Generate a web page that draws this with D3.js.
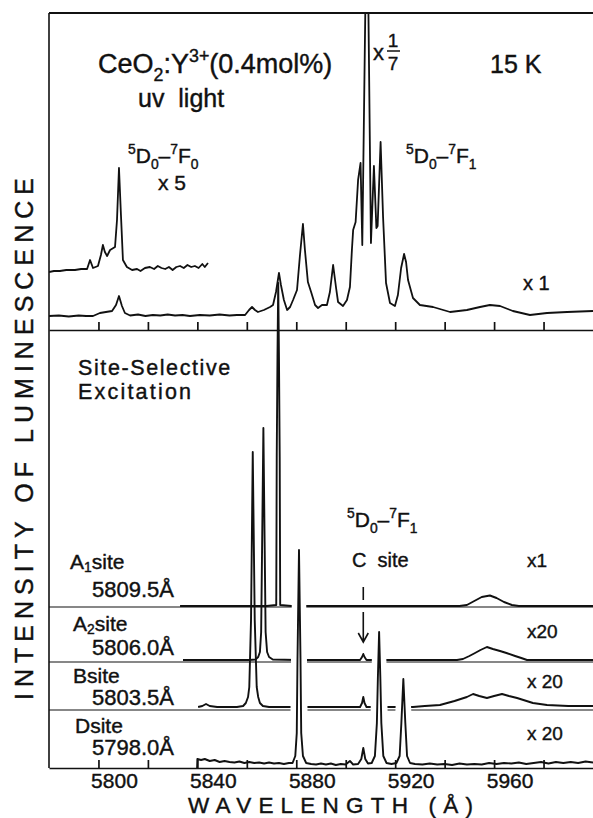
<!DOCTYPE html>
<html>
<head>
<meta charset="utf-8">
<script src="https://cdn.jsdelivr.net/npm/d3@7/dist/d3.min.js"></script>
<style>
  html, body { margin: 0; padding: 0; background: #fff; }
  svg { display: block; }
  text { font-family: "Liberation Sans", Arial, Helvetica, sans-serif; fill: #111; stroke: #111; stroke-width: 0.4px; }
</style>
</head>
<body>
<svg id="chart" width="593" height="818"></svg>
<script>
// ---- wavelength axis (Å) ----
const wavelengthTicks = [5800, 5820, 5840, 5860, 5880, 5900, 5920, 5940, 5960, 5980];
const wavelengthLabels = [5800, 5840, 5880, 5920, 5960];

// ---- upper panel: emission under uv light, [wavelength Å, intensity a.u.] ----
const uvSpectrumX1 = [
  [5780,14],[5784,14.5],[5788,13.5],[5792,14.5],[5795,14],[5797.8,14],[5800.6,17],[5803,18],
  [5805.5,19],[5807.1,25],[5808.3,34],[5809.5,24],[5810.7,17],[5812.8,14.5],[5816,15.5],[5819,14],
  [5822,15],[5825,14.5],[5828,15.5],[5831,14.5],[5834,15],[5837,14],[5841,15],[5845,14.5],
  [5849,15.5],[5853,14.5],[5856,15],[5859.3,15],[5860.9,20],[5862.1,23],[5863.3,20],[5864.5,18],
  [5866.9,20],[5869.4,23],[5870.6,25],[5871.8,38],[5873.0,57],[5873.8,45],[5875.0,30],[5876.3,20],
  [5877.5,23],[5878.7,30],[5880.3,40],[5881.5,75],[5882.7,106],[5883.5,80],[5884.7,48],[5886.0,38],
  [5887.6,25],[5888.8,22],[5890.4,25],[5892.4,25],[5893.6,38],[5894.9,65],[5896.1,42],[5896.9,28],
  [5898.9,24],[5900.5,30],[5901.7,43],[5902.5,80],[5903.0,100],[5904.0,108],[5905.0,150],[5906.0,167],
  [5906.4,120],[5906.7,85],[5908.6,450],[5910.2,87],[5911.4,164],[5912.4,102],[5912.9,104],[5914.1,188],
  [5915.1,113],[5916.3,47],[5917.9,27],[5919.9,24],[5921.1,35],[5922.4,62],[5923.6,76],[5924.4,68],
  [5925.2,50],[5927.2,32],[5930.0,25],[5935.3,23],[5942.2,18],[5949.0,20],[5954.3,23],[5958.3,25],
  [5962.4,24],[5967.6,19],[5974.5,15],[5981.4,17],[5989.5,18],[6000,19]
];
const uvSpectrumX5 = [
  [5780,58],[5782,59],[5784.4,59],[5787,60],[5790.5,60],[5793,61],[5795.4,61],[5796.6,70],
  [5797.8,62],[5799.8,64],[5801.0,75],[5801.8,85],[5802.6,78],[5803.5,74],[5804.7,80],[5806.7,83],
  [5807.5,110],[5808.3,162],[5809.1,115],[5809.9,70],[5811.5,63],[5813.6,60],[5815.6,61],[5817,59],
  [5818.8,62],[5820.8,63],[5822.5,61],[5824,64],[5825.5,62],[5827,61],[5828.5,63],[5830,60],
  [5831.5,63],[5833,64],[5834.5,62],[5836,65],[5837.5,63],[5839,64],[5840.5,62],[5842,66],
  [5843,63],[5844.3,67]
];

// ---- lower panel: site-selective excitation ----
const siteNames = ["A1", "A2", "B", "D"];
const siteExcitation = ["5809.5Å", "5806.0Å", "5803.5Å", "5798.0Å"];
const siteGain = ["x1", "x20", "x 20", "x 20"];
const siteOffset = [161, 106, 58, 0];
const siteA1 = [
  [5833,1],[5845,1],[5860,1],[5868,1],[5871.9,2],[5872.1,150],[5872.4,250],[5872.7,324],
  [5873.0,250],[5873.3,150],[5873.5,2],[5878,1],[5900,1],[5930,1],[5946,1],[5949,2],[5952,6],
  [5955,10],[5958.3,11.5],[5961,9],[5964,5],[5967.2,2],[5970,1],[6000,1]
];
const siteA2 = [
  [5834.2,2],[5845,2],[5855,2],[5861,2],[5863.5,2.5],[5864.6,5],[5865.3,10],[5865.8,30],
  [5866.2,120],[5866.7,234],[5867.2,120],[5867.6,30],[5868.2,10],[5869,5],[5870.5,2.5],[5880,2],
  [5895,2],[5905.8,2],[5906.6,5],[5907.1,8],[5907.6,5],[5908.4,2],[5930,2],[5945,2],[5947.4,3],
  [5950,6],[5952.3,9],[5954.5,12],[5957.1,15],[5959.5,13],[5962.4,11],[5965,9],[5968.5,6],
  [5971,4],[5973.3,2],[6000,2]
];
const siteB = [
  [5840.3,3],[5842,4],[5843.5,6],[5845,4],[5848,3],[5852,3],[5856,3],[5858.5,4],[5859.6,7],
  [5860.5,13],[5861.0,23],[5861.7,90],[5862.4,258],[5863.2,90],[5864.0,23],[5864.6,13],[5865.3,7],
  [5866.5,4],[5869,3],[5880,3],[5895,3],[5905.8,3],[5906.6,7],[5907.1,13],[5907.6,7],[5908.4,3],
  [5920,3],[5927.2,3],[5932,4],[5938.1,5],[5944,9],[5949,13],[5951.5,16],[5954,14],[5957.1,12],
  [5960,14],[5963.2,16],[5966,14],[5969.3,12],[5975.7,7],[5981.4,5],[5990,4],[6000,4]
];
const siteD = [
  [5839.9,0],[5840.0,9],[5841.5,8],[5843,9],[5845,7],[5847,8],[5849,6],[5851,7],[5853,6],
  [5855,5.5],[5857,6.5],[5859,5],[5861,6],[5863,5],[5865,5.5],[5867,4.5],[5869,5.5],[5871,4.5],
  [5873,5],[5875,4],[5877,5],[5878.5,5],[5879.6,12],[5880.2,35],[5880.5,110],[5881.1,218],
  [5881.7,110],[5882.0,35],[5882.7,12],[5884,5],[5886,4],[5888,3.5],[5890,4.5],[5892,3.5],
  [5894,4.5],[5896,3],[5898,4],[5900,3.5],[5901.7,7],[5903,3.5],[5905,4],[5906.3,9],[5907.1,20],
  [5907.9,9],[5909,4.5],[5910.5,5],[5911.8,12],[5912.6,45],[5913.0,90],[5913.5,136],[5914.0,90],
  [5914.4,45],[5915.2,12],[5916.5,5],[5918.5,4],[5920.5,5],[5921.8,12],[5922.5,45],[5923.3,89],
  [5924.1,45],[5924.8,12],[5926,5],[5928,4],[5931,3.5],[5934,4.5],[5937,3.5],[5940,4],[5943,3],
  [5946,4.5],[5949,3.5],[5952,4],[5955,3.5],[5958,5],[5961,4],[5964,5],[5967,4.5],[5970,5.5],
  [5973,4],[5976,5],[5979,6],[5982,4.5],[5985,6],[5988,5],[5991,6],[5994,5],[5997,6.5],[6000,5.5]
];
const siteSpectra = [siteA1, siteA2, siteB, siteD];
const cSiteWavelength = 5907.1;

(function draw() {
  // ---- layout ----
  const pLeft = 49, pRight = 593, pTop = 13, pDivider = 330, pBottom = 768;
  const ink = "#111";

  const svg = d3.select("#chart");
  const x = d3.scaleLinear().domain([5780, 6000]).range([pLeft, pRight]);
  const yTop = d3.scaleLinear().domain([0, 317]).range([pDivider, pTop]);
  const yLow = d3.scaleLinear().domain([0, 438]).range([pBottom, pDivider]);

  // rich text helper: parts with optional sub / sup
  function rich(sel, px, py, size, parts, subShift = 0.30) {
    const t = sel.append("text").attr("x", px).attr("y", py).attr("font-size", size);
    let shift = 0;
    parts.forEach(p => {
      const target = p.sub ? size * subShift : p.sup ? -size * 0.42 : 0;
      const ts = t.append("tspan").text(p.t).attr("dy", target - shift);
      if (p.sub || p.sup) ts.attr("font-size", size * 0.66);
      shift = target;
    });
    return t;
  }
  const transition = (upper, lower) => [
    { t: upper[0], sup: true }, { t: "D" }, { t: upper[1], sub: true }, { t: "–" },
    { t: lower[0], sup: true }, { t: "F" }, { t: lower[1], sub: true }
  ];

  // ---- frame ----
  svg.append("line").attr("x1", pLeft).attr("x2", pRight).attr("y1", pTop).attr("y2", pTop)
    .attr("stroke", ink).attr("stroke-width", 1.8);
  svg.append("line").attr("x1", pLeft).attr("x2", pLeft).attr("y1", pTop).attr("y2", pBottom)
    .attr("stroke", ink).attr("stroke-width", 1.6);

  // ---- upper panel spectra ----
  svg.append("clipPath").attr("id", "clipTop").append("rect")
    .attr("x", pLeft).attr("y", pTop).attr("width", pRight - pLeft).attr("height", pDivider - pTop);
  const lineTop = d3.line().x(d => x(d[0])).y(d => yTop(d[1]));
  const gTop = svg.append("g").attr("clip-path", "url(#clipTop)");
  [uvSpectrumX1, uvSpectrumX5].forEach(s => {
    gTop.append("path").datum(s).attr("d", lineTop).attr("fill", "none")
      .attr("stroke", ink).attr("stroke-width", 1.8).attr("stroke-linejoin", "round");
  });

  // ---- panel divider with inward ticks ----
  const axisMid = svg.append("g").attr("transform", `translate(0,${pDivider})`)
    .call(d3.axisTop(x).tickValues(wavelengthTicks).tickSize(8).tickSizeOuter(0).tickFormat(""));
  axisMid.selectAll("path,line").attr("stroke", ink).attr("stroke-width", 1.7);

  // ---- lower panel: row separators ----
  siteOffset.forEach(o => {
    if (o === 0) return;
    svg.append("line").attr("x1", pLeft).attr("x2", pRight)
      .attr("y1", yLow(o)).attr("y2", yLow(o)).attr("stroke", ink).attr("stroke-width", 1.2);
  });

  const lineLow = o => d3.line().x(d => x(d[0])).y(d => yLow(d[1] + o));
  siteSpectra.forEach((s, i) => {
    const o = siteOffset[i];
    if (siteNames[i] === "D") {
      // white backing breaks the rows it crosses
      svg.append("path").datum(s).attr("d", lineLow(o)).attr("fill", "none")
        .attr("stroke", "#fff").attr("stroke-width", 13).attr("stroke-linejoin", "round");
    }
    svg.append("path").datum(s).attr("d", lineLow(o)).attr("fill", "none")
      .attr("stroke", ink).attr("stroke-width", 1.9).attr("stroke-linejoin", "round");
  });

  // ---- bottom axis ----
  const axisB = svg.append("g").attr("transform", `translate(0,${pBottom})`)
    .call(d3.axisTop(x).tickValues(wavelengthTicks).tickSize(8).tickSizeOuter(0).tickFormat(""));
  axisB.selectAll("path,line").attr("stroke", ink).attr("stroke-width", 1.7);

  svg.append("g").selectAll("text").data(wavelengthLabels).join("text")
    .attr("x", d => x(d) + 16).attr("y", pBottom + 20).attr("text-anchor", "middle")
    .attr("font-size", 21).text(d => d);

  svg.append("text").attr("x", 188).attr("y", 813).attr("font-size", 22.5)
    .attr("textLength", 285).attr("lengthAdjust", "spacing").text("WAVELENGTH (Å)");

  svg.append("text").attr("transform", "translate(33,700) rotate(-90)")
    .attr("font-size", 25).attr("textLength", 522).attr("lengthAdjust", "spacing")
    .text("INTENSITY OF LUMINESCENCE");

  // ---- upper panel annotations ----
  rich(svg, 98, 73, 27, [{ t: "CeO" }, { t: "2", sub: true }, { t: ":Y" }, { t: "3+", sup: true }, { t: "(0.4mol%)" }]);
  svg.append("text").attr("x", 138).attr("y", 107).attr("font-size", 25)
    .style("white-space", "pre").text("uv  light");
  svg.append("text").attr("x", 490).attr("y", 73).attr("font-size", 25).text("15 K");
  rich(svg, 128, 163, 21, transition("50", "70"));
  svg.append("text").attr("x", 158).attr("y", 190).attr("font-size", 21)
    .style("white-space", "pre").text("x 5");
  rich(svg, 406, 163, 21, transition("50", "71"));
  svg.append("text").attr("x", 523).attr("y", 290).attr("font-size", 20).text("x 1");
  // ×1/7 marker
  svg.append("text").attr("x", 373).attr("y", 60).attr("font-size", 22).text("x");
  svg.append("text").attr("x", 393).attr("y", 47).attr("font-size", 19).attr("text-anchor", "middle").text("1");
  svg.append("line").attr("x1", 387).attr("x2", 400).attr("y1", 51).attr("y2", 51)
    .attr("stroke", ink).attr("stroke-width", 1.5);
  svg.append("text").attr("x", 393).attr("y", 70).attr("font-size", 19).attr("text-anchor", "middle").text("7");

  // ---- lower panel annotations ----
  svg.append("text").attr("x", 78).attr("y", 375).attr("font-size", 21.5)
    .attr("letter-spacing", 1.6).text("Site-Selective");
  svg.append("text").attr("x", 78).attr("y", 399).attr("font-size", 21.5)
    .attr("letter-spacing", 2.2).text("Excitation");
  rich(svg, 347, 527, 21, transition("50", "71"));
  svg.append("text").attr("x", 352).attr("y", 567).attr("font-size", 20)
    .style("white-space", "pre").text("C  site");

  // per-row label placement relative to each row baseline
  const nameDy = [-38, -31, -27, -35], excDy = [-10, -7, -5, -13], gainDy = [-40, -24, -22, -28];
  const nameDx = [70, 73, 73, 75];
  siteNames.forEach((n, i) => {
    const yr = yLow(siteOffset[i]);
    const parts = n.length > 1 ? [{ t: n[0] }, { t: n.slice(1), sub: true }, { t: "site" }] : [{ t: n }, { t: "site" }];
    rich(svg, nameDx[i], yr + nameDy[i], 21, parts, 0.16);
    svg.append("text").attr("x", 92).attr("y", yr + excDy[i]).attr("font-size", 22).text(siteExcitation[i]);
    svg.append("text").attr("x", 527).attr("y", yr + gainDy[i]).attr("font-size", 19)
      .style("white-space", "pre").text(siteGain[i]);
  });

  // C-site marker and arrow
  const cx = x(cSiteWavelength);
  const yA1 = yLow(siteOffset[0]), yA2 = yLow(siteOffset[1]);
  svg.append("line").attr("x1", cx).attr("x2", cx).attr("y1", yA1 - 20).attr("y2", yA1 - 7)
    .attr("stroke", ink).attr("stroke-width", 1.6);
  svg.append("path")
    .attr("d", `M${cx},${yA1 + 5}V${yA2 - 20}M${cx - 5},${yA2 - 29}L${cx},${yA2 - 20}L${cx + 5},${yA2 - 29}`)
    .attr("fill", "none").attr("stroke", ink).attr("stroke-width", 1.6);
})();
</script>
</body>
</html>
